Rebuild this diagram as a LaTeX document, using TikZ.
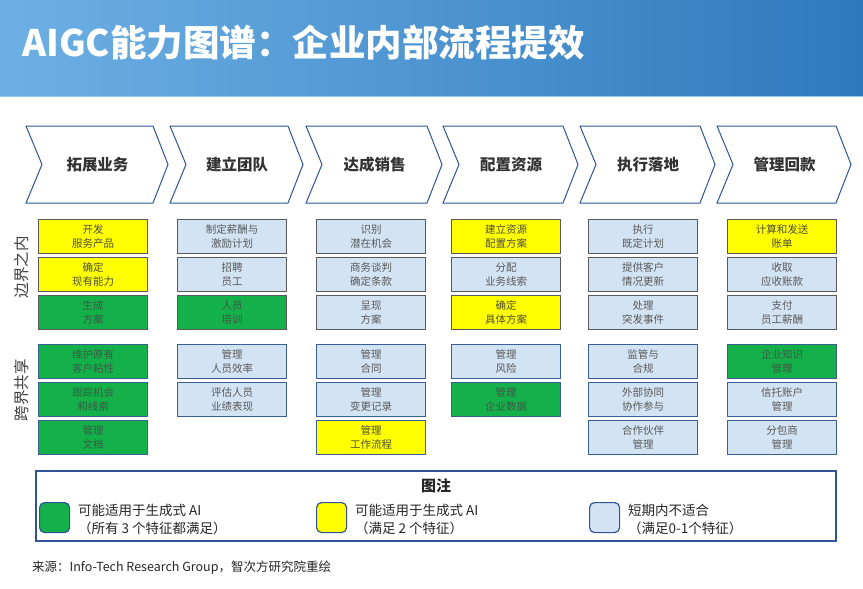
\documentclass[tikz,border=0pt]{standalone}
\usepackage{fontspec}
\setmainfont{Noto Sans CJK SC}
\definecolor{barL}{HTML}{6DB0E4}
\definecolor{barR}{HTML}{2E79BD}
\definecolor{chev}{HTML}{2F5597}
\definecolor{cY}{HTML}{FFFF00}
\definecolor{cG}{HTML}{14B14B}
\definecolor{cB}{HTML}{D2E3F4}
\definecolor{tY}{HTML}{4F4F3A}
\definecolor{tG}{HTML}{3A5A44}
\definecolor{tB}{HTML}{595959}
\definecolor{edgeTop}{HTML}{5A5A5A}
\definecolor{edgeBot}{HTML}{3A5F95}
\tikzset{
  cbox/.style={draw, line width=1.3pt, minimum width=109pt, minimum height=34pt,
    inner sep=0pt, align=center, anchor=north west,
    font=\fontsize{10.5}{13.5}\selectfont},
  chevpath/.style={draw=chev, line width=1pt, fill=white, line join=miter},
  chevtext/.style={font=\fontsize{15.5}{18}\selectfont\bfseries, text=black!80},
  sidelab/.style={font=\fontsize{15.5}{18}\selectfont, text=black!75, rotate=90},
  swatch/.style={draw=chev, line width=1.2pt, rounded corners=5pt, minimum width=30pt,
    minimum height=30pt, inner sep=0pt, anchor=north west},
  legtext/.style={anchor=west, inner sep=0pt, font=\fontsize{13.5}{16}\selectfont, text=black!85}
}
\begin{document}
\begin{tikzpicture}[x=1pt,y=-1pt]
\useasboundingbox (0,0) rectangle (863,589);
\fill[white] (0,0) rectangle (863,589);
% title bar
\shade[left color=barL, right color=barR] (0,0) rectangle (863,96);
\draw[barL!70!white, line width=0.8pt] (0,96) -- (863,96);
\node[anchor=west, inner sep=0pt, text=white, font=\fontsize{36.5}{40}\selectfont\bfseries] (title) at (22,43) {AIGC能力图谱：企业内部流程提效};
% chevrons
\foreach \L/\R/\txt [count=\i] in {26/153/拓展业务, 170/288/建立团队, 306/427/达成销售, 443/563/配置资源, 580/700/执行落地, 717/836/管理回款}{
  \draw[chevpath] (\L,126) -- (\R,126) -- (\R+15,164.5) -- (\R,203) -- (\L,203) -- (\L+16,164.5) -- cycle;
  \node[chevtext] (chev\i) at ({(\L+16+\R)/2},164.5) {\txt};
}
% side labels
\node[sidelab] (inside) at (21.5,267) {边界之内};
\node[sidelab] (cross) at (21.5,390) {跨界共享};
% boxes: col / row / color / text
\foreach \c/\r/\f/\t in {
  1/1/Y/{开发\\服务产品}, 1/2/Y/{确定\\现有能力}, 1/3/G/{生成\\方案},
  1/4/G/{维护原有\\客户粘性}, 1/5/G/{跟踪机会\\和线索}, 1/6/G/{管理\\文档},
  2/1/B/{制定薪酬与\\激励计划}, 2/2/B/{招聘\\员工}, 2/3/G/{人员\\培训},
  2/4/B/{管理\\人员效率}, 2/5/B/{评估人员\\业绩表现},
  3/1/B/{识别\\潜在机会}, 3/2/B/{商务谈判\\确定条款}, 3/3/B/{呈现\\方案},
  3/4/B/{管理\\合同}, 3/5/B/{管理\\变更记录}, 3/6/Y/{管理\\工作流程},
  4/1/Y/{建立资源\\配置方案}, 4/2/B/{分配\\业务线索}, 4/3/Y/{确定\\具体方案},
  4/4/B/{管理\\风险}, 4/5/G/{管理\\企业数据},
  5/1/B/{执行\\既定计划}, 5/2/B/{提供客户\\情况更新}, 5/3/B/{处理\\突发事件},
  5/4/B/{监管与\\合规}, 5/5/B/{外部协同\\协作参与}, 5/6/B/{合作伙伴\\管理},
  6/1/Y/{计算和发送\\账单}, 6/2/B/{收取\\应收账款}, 6/3/B/{支付\\员工薪酬},
  6/4/G/{企业知识\\管理}, 6/5/B/{信托账户\\管理}, 6/6/B/{分包商\\管理}}{
  \pgfmathsetmacro{\bx}{{0,38,177,316,451,588,727}[\c]}
  \pgfmathsetmacro{\by}{{0,219,257,295,344,382,420}[\r]}
  \ifnum\r<4 \def\ec{edgeTop}\else\def\ec{edgeBot}\fi
  \node[cbox, fill=c\f, text=t\f, draw=\ec] (b\c-\r) at (\bx,\by) {\t};
}
% legend
\draw[chev, line width=1.5pt] (36,471) rectangle (836,541);
\node[font=\fontsize{15}{18}\selectfont\bfseries, text=black!85] (legtitle) at (436,486) {图注};
\node[swatch, fill=cG] (swG) at (39,502) {};
\node[swatch, fill=cY] (swY) at (316,502) {};
\node[swatch, fill=cB] (swB) at (589,502) {};
\node[legtext] (lg1) at (78,510) {可能适用于生成式 AI};
\node[legtext] (lg2) at (78,528) {（所有 3 个特征都满足）};
\node[legtext] (ly1) at (355,510) {可能适用于生成式 AI};
\node[legtext] (ly2) at (355,528) {（满足 2 个特征）};
\node[legtext] (lb1) at (628,510) {短期内不适合};
\node[legtext] (lb2) at (628,528) {（满足0-1个特征）};
% source
\node[anchor=west, inner sep=0pt, font=\fontsize{12.5}{15}\selectfont, text=black!85] (src) at (32,568) {来源：Info-Tech Research Group，智次方研究院重绘};
\end{tikzpicture}
\end{document}
